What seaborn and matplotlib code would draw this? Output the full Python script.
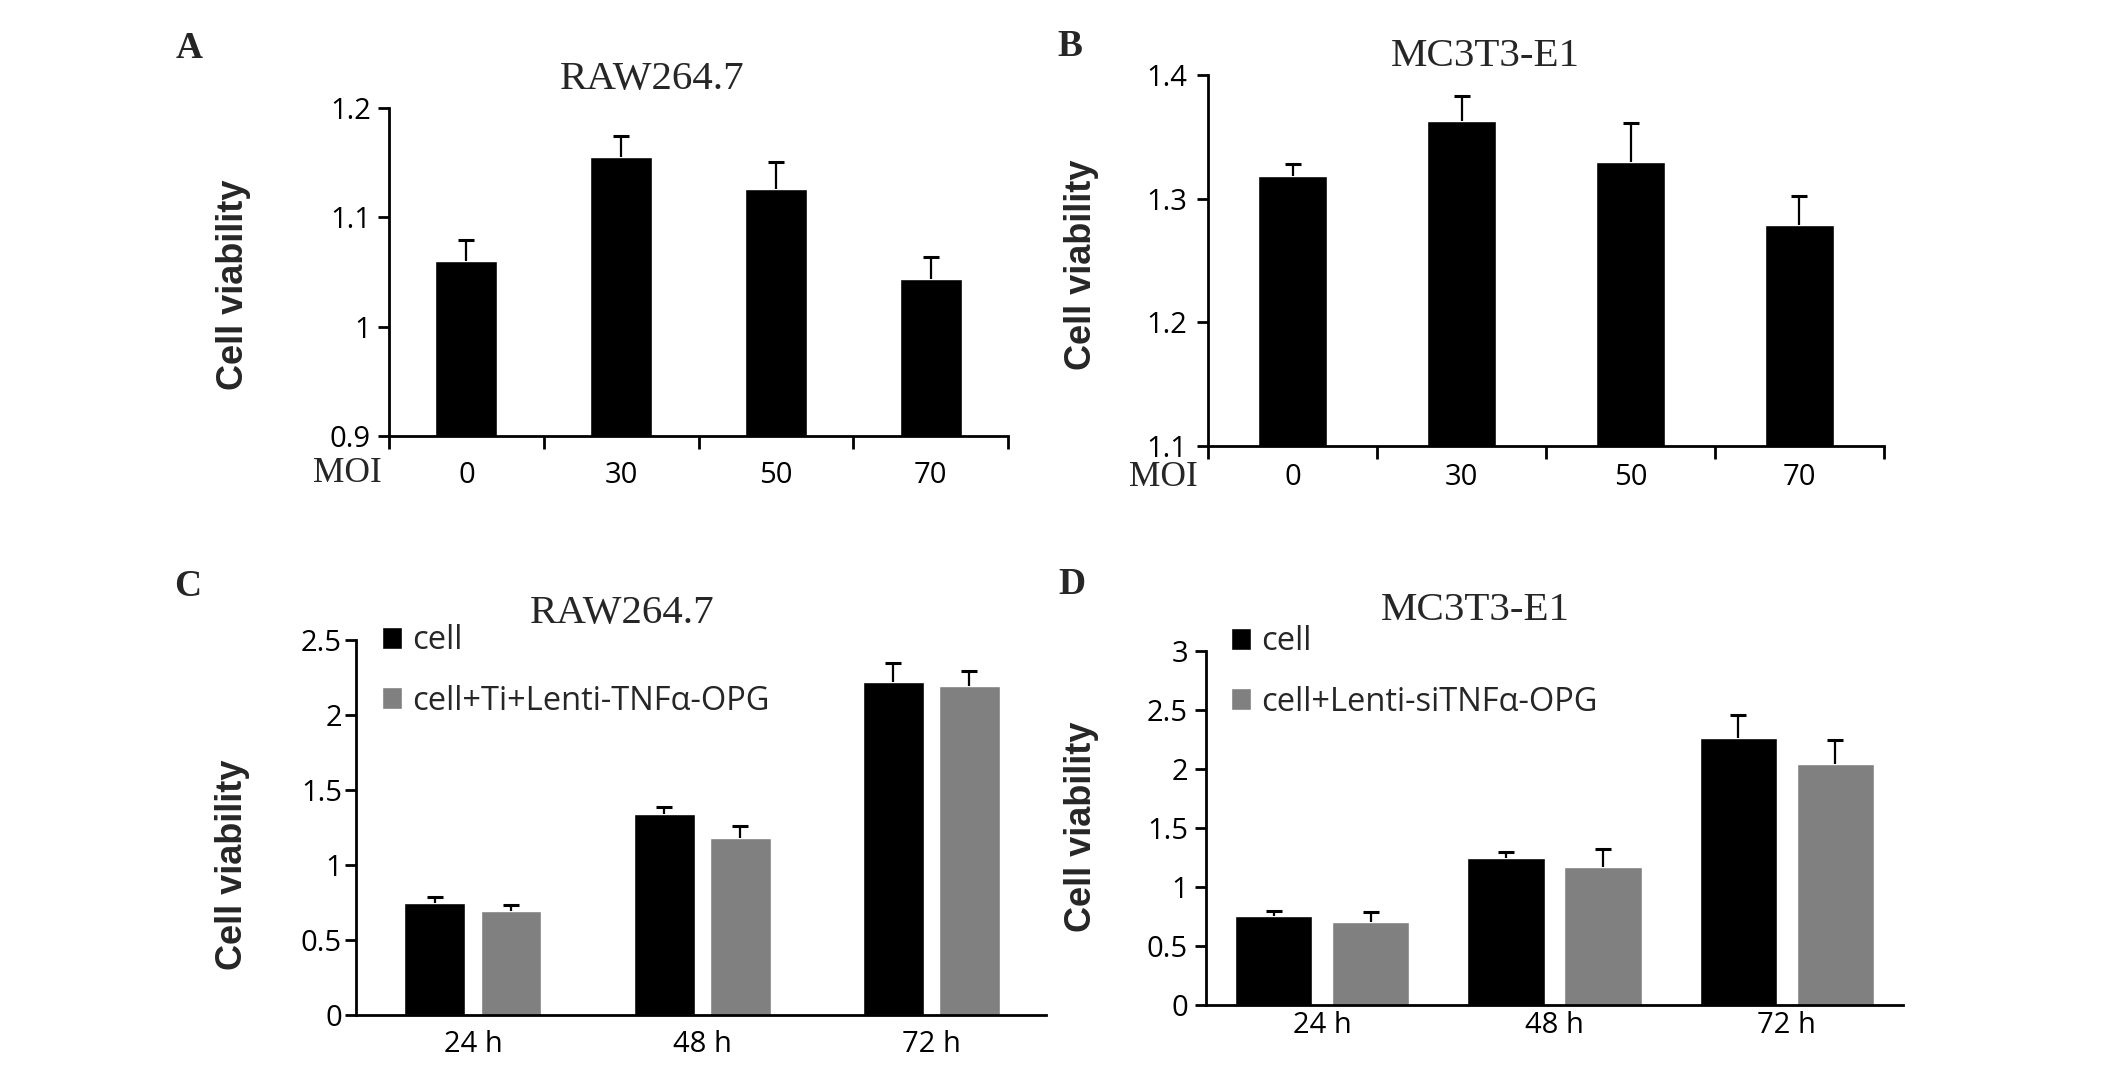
import numpy as np
import pandas as pd
import matplotlib
matplotlib.use('Agg')
import matplotlib.pyplot as plt
from matplotlib.ticker import FixedLocator, FuncFormatter
import seaborn as sns

# DATA
moi_labels = ['0', '30', '50', '70']
raw_moi_mean = [1.060, 1.155, 1.126, 1.044]
raw_moi_err = [0.019, 0.019, 0.025, 0.020]
mc_moi_mean = [1.318, 1.363, 1.330, 1.279]
mc_moi_err = [0.010, 0.020, 0.031, 0.023]

time_labels = ['24 h', '48 h', '72 h']
raw_groups = ['cell', 'cell+Ti+Lenti-TNFα-OPG']
raw_cell = [0.747, 1.339, 2.222]
raw_cell_err = [0.040, 0.050, 0.126]
raw_trt = [0.693, 1.177, 2.191]
raw_trt_err = [0.040, 0.086, 0.105]

mc_groups = ['cell', 'cell+Lenti-siTNFα-OPG']
mc_cell = [0.754, 1.246, 2.263]
mc_cell_err = [0.042, 0.054, 0.193]
mc_trt = [0.700, 1.173, 2.045]
mc_trt_err = [0.090, 0.147, 0.204]

bar_colors = ['#000000', '#808080']

# STYLE
sns.set_theme(style='ticks')
plt.rcParams['font.family'] = ['Open Sans', 'DejaVu Sans']
plt.rcParams['axes.edgecolor'] = 'black'
plt.rcParams['xtick.color'] = 'black'
plt.rcParams['ytick.color'] = 'black'

SERIF = ['Liberation Serif', 'DejaVu Serif']
ARIAL = ['Liberation Sans', 'DejaVu Sans']

W, H = 2126, 1067
fig = plt.figure(figsize=(W / 100, H / 100), dpi=100)


def box(x0, x1, y0, y1):
    # pixel box (y from top) -> figure fraction rect
    return [x0 / W, 1 - y1 / H, (x1 - x0) / W, (y1 - y0) / H]


def fx(x):
    return x / W


def fy(y):
    return 1 - y / H


def add_err(ax, container, errs):
    # upper error bar only, no cap on the bar top
    xs = [p.get_x() + p.get_width() / 2 for p in container]
    ys = [p.get_height() for p in container]
    eb = ax.errorbar(xs, ys, yerr=[np.zeros(len(errs)), errs], fmt='none',
                     ecolor='black', elinewidth=1.6, capsize=5.5, capthick=2.2,
                     zorder=1)
    for cap in eb[1]:
        if np.allclose(cap.get_ydata(), ys):
            cap.set_visible(False)


def style_y(ax, yticks, ypad, label_xy):
    sns.despine(ax=ax)
    for s in ['left', 'bottom']:
        ax.spines[s].set_linewidth(2)
    ax.set_ylim(yticks[0], yticks[-1])
    ax.set_yticks(yticks)
    ax.yaxis.set_major_formatter(FuncFormatter(lambda v, p: f'{v:g}'))
    ax.tick_params(axis='y', length=8, width=2, pad=ypad, labelsize=21)
    ax.set_ylabel('Cell viability', fontsize=26, fontweight='bold', family=ARIAL)
    ax.yaxis.set_label_coords(fx(label_xy[0]), fy(label_xy[1]),
                              transform=fig.transFigure)
    ax.set_xlabel('')


def moi_panel(rect, means, errs, yticks, width, ypad, xpad, label_xy):
    ax = fig.add_axes(rect)
    sns.barplot(x=moi_labels, y=means, color='black', width=width,
                errorbar=None, saturation=1, ax=ax)
    add_err(ax, ax.containers[0], errs)
    style_y(ax, yticks, ypad, label_xy)
    ax.set_xlim(-0.5, 3.5)
    ax.xaxis.set_minor_locator(FixedLocator(np.arange(-0.5, 4, 1)))
    ax.tick_params(axis='x', which='major', length=0, pad=xpad, labelsize=21)
    ax.tick_params(axis='x', which='minor', length=9, width=2)
    return ax


def time_panel(rect, groups, cell, cell_err, trt, trt_err, yticks, width,
               xlim, ypad, xpad, label_xy, leg_xy):
    ax = fig.add_axes(rect)
    df = pd.DataFrame({
        'time': time_labels * 2,
        'viability': cell + trt,
        'group': [groups[0]] * 3 + [groups[1]] * 3,
    })
    sns.barplot(data=df, x='time', y='viability', hue='group',
                palette=bar_colors, width=width, gap=0.2, errorbar=None,
                saturation=1, ax=ax)
    add_err(ax, ax.containers[0], cell_err)
    add_err(ax, ax.containers[1], trt_err)
    style_y(ax, yticks, ypad, label_xy)
    ax.set_xlim(*xlim)
    ax.tick_params(axis='x', length=0, pad=xpad, labelsize=21)
    sns.move_legend(ax, 'upper left', bbox_to_anchor=(fx(leg_xy[0]), fy(leg_xy[1])),
                    bbox_transform=fig.transFigure, frameon=False, title=None,
                    fontsize=23.5, handlelength=0.62, handleheight=0.66,
                    handletextpad=0.3, labelspacing=0.85, borderpad=0,
                    borderaxespad=0)
    return ax


# PANEL A
moi_panel(box(389, 1008, 108, 436), raw_moi_mean, raw_moi_err,
          [0.9, 1.0, 1.1, 1.2], 0.40, 5, 18, (251, 285))
# PANEL B
moi_panel(box(1208, 1884, 75, 446), mc_moi_mean, mc_moi_err,
          [1.1, 1.2, 1.3, 1.4], 0.41, 7, 12, (1099, 265))
# PANEL C
time_panel(box(356, 1046, 640, 1015), raw_groups, raw_cell, raw_cell_err,
           raw_trt, raw_trt_err, [0, 0.5, 1, 1.5, 2, 2.5], 0.664, (-0.51, 2.5),
           2, 11, (250, 865), (382, 624))
# PANEL D
time_panel(box(1206, 1903, 651, 1005), mc_groups, mc_cell, mc_cell_err,
           mc_trt, mc_trt_err, [0, 0.5, 1, 1.5, 2, 2.5, 3], 0.834, (-0.5, 2.5),
           5, 4, (1099, 827), (1231, 625))

# TEXT
for x, y, s in [(189, 49, 'A'), (1070, 47, 'B'), (188, 587, 'C'), (1072, 584, 'D')]:
    fig.text(fx(x), fy(y), s, family=SERIF, fontweight='bold', fontsize=27,
             ha='center', va='center')

for x, y, s in [(652, 80, 'RAW264.7'), (1485, 57, 'MC3T3-E1'),
                (622, 613, 'RAW264.7'), (1475, 611, 'MC3T3-E1')]:
    fig.text(fx(x), fy(y), s, family=SERIF, fontsize=29.5, ha='center', va='center')

fig.text(fx(347), fy(473), 'MOI', family=SERIF, fontsize=25.5, ha='center', va='center')
fig.text(fx(1163), fy(478), 'MOI', family=SERIF, fontsize=25.5, ha='center', va='center')

fig.savefig('out.png', dpi=100, facecolor='white')
